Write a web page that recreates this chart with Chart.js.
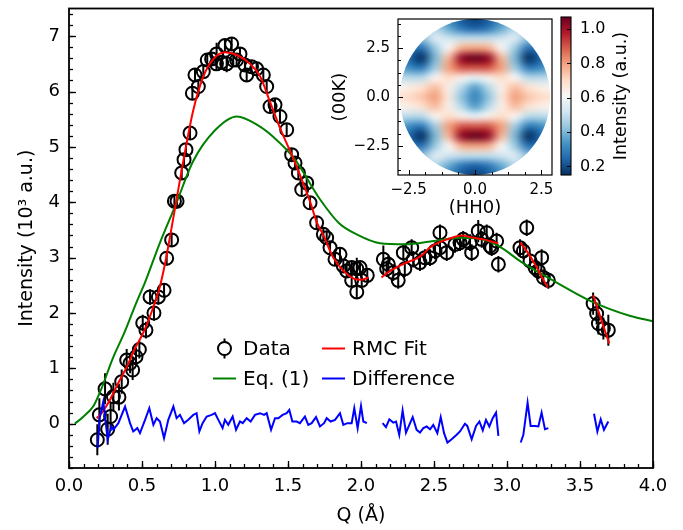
<!DOCTYPE html>
<html>
<head>
<meta charset="utf-8">
<script src="https://cdn.jsdelivr.net/npm/chart.js@4.4.1/dist/chart.umd.min.js"></script>
<style>
  html, body { margin: 0; padding: 0; background: #fff; }
  #wrap { position: relative; width: 683px; height: 530px; }
  canvas { position: absolute; }
  #mainChart { left: 0; top: 0; }
  #mapChart { left: 330px; top: 0; }
  #barChart { left: 555px; top: 0; }
</style>
</head>
<body>
<div id="wrap">
  <canvas id="mainChart" width="683" height="530"></canvas>
  <canvas id="mapChart" width="240" height="225"></canvas>
  <canvas id="barChart" width="128" height="200"></canvas>
</div>
<script>
// Measured powder pattern (10^3 a.u.) with uncertainties
const dataQ = [0.194,0.208,0.247,0.265,0.285,0.304,0.342,0.361,0.395,0.418,0.436,0.459,0.482,0.505,0.527,0.555,0.582,0.612,0.651,0.669,
  0.703,0.722,0.740,0.772,0.788,0.801,0.829,0.845,0.863,0.886,0.920,0.947,0.977,1.010,1.011,1.046,1.068,1.080,1.114,1.125,
  1.148,1.171,1.205,1.217,1.250,1.285,1.331,1.354,1.377,1.411,1.445,1.491,1.525,1.548,1.571,1.594,1.628,1.651,1.696,1.742,
  1.765,1.788,1.822,1.856,1.879,1.902,1.936,1.936,1.971,1.971,1.993,2.005,2.043,
  2.153,2.176,2.187,2.221,2.255,2.290,2.300,2.347,2.358,2.404,2.438,2.473,2.507,2.541,2.541,2.587,2.644,2.678,2.700,2.747,
  2.758,2.803,2.827,2.861,2.884,2.895,2.929,2.941,
  3.089,3.112,3.135,3.158,3.192,3.215,3.237,3.249,3.283,
  3.590,3.614,3.626,3.660,3.694];
const dataI = [-0.29,0.16,0.63,-0.10,0.13,0.49,0.48,0.76,1.15,1.09,0.97,1.21,1.34,1.82,1.69,2.29,2.00,2.29,2.41,2.99,
  3.32,4.02,4.02,4.53,4.77,4.95,5.25,5.97,6.30,6.09,6.36,6.57,6.59,6.50,6.68,6.53,6.83,6.50,6.86,6.57,
  6.57,6.68,6.48,6.30,6.45,6.41,6.30,6.09,5.73,5.76,5.55,5.31,4.86,4.71,4.53,4.23,4.35,3.99,3.63,3.42,
  3.36,3.18,2.97,3.06,2.85,2.76,2.82,2.59,2.80,2.38,2.82,2.59,2.68,
  2.97,2.80,2.88,2.73,2.59,3.09,2.80,3.18,2.97,2.91,3.00,3.00,3.12,3.45,3.18,3.09,3.24,3.27,3.33,3.27,
  3.09,3.48,3.33,3.45,3.21,3.18,3.30,2.88,
  3.18,3.12,3.54,2.94,2.82,2.76,3.00,2.64,2.59,
  2.17,1.99,1.81,1.72,1.69];
const dataErr = [0.28,0.30,0.28,0.28,0.26,0.25,0.24,0.22,0.20,0.18,0.18,0.16,0.16,0.15,0.15,0.14,0.14,0.14,0.13,0.13,
  0.13,0.13,0.13,0.12,0.12,0.12,0.12,0.12,0.12,0.12,0.12,0.12,0.12,0.12,0.20,0.12,0.12,0.15,0.12,0.12,
  0.12,0.12,0.12,0.12,0.12,0.12,0.12,0.12,0.12,0.12,0.12,0.12,0.12,0.12,0.12,0.12,0.12,0.12,0.12,0.12,
  0.12,0.12,0.12,0.12,0.12,0.12,0.12,0.12,0.20,0.12,0.12,0.12,0.12,
  0.25,0.15,0.15,0.15,0.15,0.15,0.15,0.15,0.15,0.15,0.15,0.15,0.15,0.15,0.15,0.15,0.15,0.15,0.15,0.15,
  0.15,0.20,0.15,0.15,0.15,0.15,0.15,0.15,
  0.15,0.15,0.15,0.15,0.15,0.15,0.15,0.15,0.15,
  0.20,0.20,0.20,0.20,0.28];

// RMC fit, one piece per measured Q window (null = gap)
const fitQ = [0.19,0.22,0.28,0.34,0.40,0.45,0.51,0.57,0.62,0.66,0.70,0.73,0.78,0.85,0.92,0.99,1.07,1.15,1.24,1.31,
  1.38,1.45,1.54,1.61,1.65,1.70,1.74,1.81,1.88,1.95,2.00,2.05, 2.10,
  2.14,2.20,2.27,2.33,2.37,2.42,2.47,2.53,2.59,2.65,2.70,2.75,2.79,2.84,2.88,2.94, 3.02,
  3.09,3.14,3.20,3.24,3.28, 3.45,
  3.59,3.64,3.70];
const fitI = [0.10,0.18,0.43,0.75,1.05,1.35,1.65,2.05,2.45,2.92,3.50,3.95,4.70,5.65,6.27,6.59,6.71,6.66,6.50,6.27,
  5.79,5.31,4.77,4.30,4.02,3.62,3.42,3.00,2.76,2.62,2.60,2.64, null,
  2.64,2.76,2.86,2.93,2.97,3.05,3.18,3.27,3.33,3.38,3.40,3.37,3.35,3.33,3.30,3.26, null,
  3.27,3.10,2.84,2.64,2.46, null,
  2.32,1.92,1.45];

// Eq. (1) model curve
const eqQ = [0.04,0.10,0.17,0.22,0.30,0.38,0.46,0.52,0.62,0.73,0.85,1.00,1.15,1.30,1.40,1.54,1.72,1.85,1.97,2.13,
  2.30,2.50,2.68,2.85,2.95,3.10,3.34,3.57,3.84,4.00];
const eqI = [0.00,0.13,0.33,0.62,1.18,1.65,2.18,2.55,3.25,3.95,4.74,5.30,5.55,5.38,5.18,4.80,4.05,3.62,3.42,3.26,
  3.24,3.30,3.36,3.32,3.20,2.92,2.55,2.22,1.95,1.85];

// Data minus fit (null = gap)
const diffQ = [0.196,0.210,0.235,0.265,0.290,0.304,0.338,0.384,0.418,0.440,0.468,0.486,0.521,0.550,0.578,0.600,0.623,0.651,0.680,0.715,
  0.737,0.760,0.788,0.817,0.852,0.874,0.893,0.915,0.943,0.977,1.000,1.023,1.052,1.068,1.091,1.121,1.144,1.171,1.190,1.217,
  1.244,1.274,1.308,1.336,1.354,1.384,1.411,1.434,1.463,1.491,1.509,1.530,1.559,1.582,1.616,1.639,1.662,1.692,1.719,1.747,
  1.765,1.792,1.822,1.856,1.879,1.906,1.936,1.954,1.977,2.000,2.016,2.040, 2.09,
  2.148,2.171,2.194,2.221,2.240,2.262,2.285,2.308,2.331,2.354,2.381,2.404,2.427,2.450,2.473,2.495,2.523,2.546,2.569,2.592,
  2.621,2.655,2.678,2.712,2.728,2.758,2.788,2.811,2.834,2.856,2.879,2.902,2.925,2.941, 3.02,
  3.094,3.112,3.141,3.162,3.192,3.215,3.237,3.260,3.283, 3.45,
  3.596,3.619,3.642,3.664,3.694];
const diffI = [-0.44,0.10,0.40,-0.29,-0.05,-0.11,0.01,0.31,0.01,-0.14,-0.08,-0.17,0.07,0.28,-0.02,0.10,0.04,-0.26,0.07,0.31,
  0.10,0.16,0.01,0.07,0.16,0.19,-0.14,0.01,0.13,0.16,0.19,0.07,-0.08,0.07,-0.02,0.13,-0.11,0.04,0.01,0.10,
  0.04,0.16,0.19,0.16,0.19,-0.11,0.10,0.10,0.16,0.19,0.25,0.04,0.04,0.01,0.13,-0.02,0.01,0.12,-0.05,0.01,
  0.10,0.04,0.07,0.19,-0.02,0.01,0.01,0.28,-0.08,0.32,0.04,0.01, null,
  0.01,-0.06,0.08,0.02,0.04,-0.20,0.24,-0.16,-0.02,0.12,-0.11,-0.16,-0.08,-0.05,-0.10,-0.02,-0.17,0.12,-0.17,-0.34,
  -0.28,-0.20,-0.14,0.00,-0.04,-0.28,-0.04,0.04,-0.12,0.07,-0.05,0.10,0.20,-0.22, null,
  -0.34,-0.20,0.38,-0.04,-0.04,-0.05,0.20,-0.10,-0.08, null,
  0.18,-0.14,0.08,-0.11,0.04];

const xTicks = [0, 0.5, 1, 1.5, 2, 2.5, 3, 3.5, 4];
const yTicks = [0, 1, 2, 3, 4, 5, 6, 7];

// Single-crystal map, one quadrant (K rows 0..4, H cols 0..3, step 0.5); mirrored in H and K
const mapH = [0, 0.5, 1, 1.5, 2, 2.5, 3];
const mapK = [0, 0.5, 1, 1.5, 2, 2.5, 3, 3.5, 4];
const mapQuad = [
  [0.30, 0.42, 0.66, 0.80, 0.74, 0.70, 0.68],
  [0.36, 0.48, 0.64, 0.75, 0.68, 0.64, 0.62],
  [0.58, 0.64, 0.70, 0.62, 0.48, 0.48, 0.50],
  [0.90, 0.90, 0.80, 0.45, 0.28, 0.32, 0.38],
  [1.07, 1.02, 0.76, 0.40, 0.15, 0.25, 0.32],
  [0.80, 0.78, 0.62, 0.44, 0.26, 0.30, 0.35],
  [0.50, 0.50, 0.52, 0.55, 0.42, 0.40, 0.40],
  [0.24, 0.28, 0.38, 0.48, 0.45, 0.45, 0.45],
  [0.18, 0.22, 0.32, 0.42, 0.45, 0.45, 0.45]
];
const mapTicks = [-2.5, 0, 2.5];
const barTicks = [0.2, 0.4, 0.6, 0.8, 1.0];
const cbMin = 0.15, cbMax = 1.07;
const qMax = 4;

Chart.defaults.font.family = "'DejaVu Sans', sans-serif";
Chart.defaults.color = '#000';

const pts = (xs, ys) => xs.map((x, i) => ({ x, y: ys[i] }));
const steps = (a, b, s) => { const out = []; for (let v = a; v <= b + 1e-9; v += s) out.push(+v.toFixed(4)); return out; };
const fixedTicks = list => scale => { scale.ticks = list.map(v => ({ value: v })); };
const signed = v => (v < 0 ? '\u2212' : '') + Math.abs(v).toFixed(1);
// fixed axis box, no extra room for half tick labels
const boxW = w => s => { s.width = w; s.paddingTop = 0; s.paddingBottom = 0; };
const boxH = h => s => { s.height = h; s.paddingLeft = 0; s.paddingRight = 0; };

// RdBu_r
const rdbu = ['#053061','#2166ac','#4393c3','#92c5de','#d1e5f0','#f7f7f7','#fddbc7','#f4a582','#d6604d','#b2182b','#67001f']
  .map(h => [1, 3, 5].map(i => parseInt(h.substr(i, 2), 16)));
function cmap(t) {
  t = Math.max(0, Math.min(1, t));
  const s = t * 10, i = Math.min(9, Math.floor(s)), f = s - i;
  return rdbu[i].map((c, k) => Math.round(c + (rdbu[i + 1][k] - c) * f));
}

// ticks pointing into the plot + axes frame
const inwardTicks = {
  id: 'inwardTicks',
  afterDraw(chart, args, opts) {
    const { ctx, chartArea: a } = chart;
    ctx.save();
    ctx.strokeStyle = '#000';
    ctx.lineWidth = opts.tickWidth;
    (opts.marks || []).forEach(m => {
      const scale = chart.scales[m.axis];
      const draw = (v, len) => {
        const p = Math.round(scale.getPixelForValue(v)) + 0.5;
        ctx.beginPath();
        if (m.side === 'bottom') { ctx.moveTo(p, a.bottom); ctx.lineTo(p, a.bottom - len); }
        else if (m.side === 'left') { ctx.moveTo(a.left, p); ctx.lineTo(a.left + len, p); }
        else { ctx.moveTo(a.right, p); ctx.lineTo(a.right - len, p); }
        ctx.stroke();
      };
      (m.minor || []).forEach(v => draw(v, opts.minorLen));
      m.major.forEach(v => draw(v, opts.majorLen));
    });
    ctx.lineWidth = opts.frameWidth;
    ctx.strokeRect(a.left, a.top, a.width, a.height);
    ctx.restore();
  }
};

// vertical error bars under the data markers
const errorBars = {
  id: 'errorBars',
  beforeDatasetsDraw(chart) {
    const { ctx, chartArea: a, scales: { x, y } } = chart;
    ctx.save();
    ctx.beginPath();
    ctx.rect(a.left, a.top, a.width, a.height);
    ctx.clip();
    ctx.strokeStyle = '#000';
    ctx.lineWidth = 2;
    dataQ.forEach((q, i) => {
      const px = x.getPixelForValue(q);
      ctx.beginPath();
      ctx.moveTo(px, y.getPixelForValue(dataI[i] - dataErr[i]));
      ctx.lineTo(px, y.getPixelForValue(dataI[i] + dataErr[i]));
      ctx.stroke();
    });
    ctx.restore();
  }
};

// two-column legend inside the axes
const innerLegend = {
  id: 'innerLegend',
  afterDatasetsDraw(chart) {
    const { ctx, chartArea: a } = chart;
    const rows = [a.top + 340, a.top + 370];
    const cols = [a.left + 144, a.left + 253];
    const hl = 23;
    ctx.save();
    ctx.font = "20px 'DejaVu Sans'";
    ctx.textBaseline = 'middle';
    ctx.fillStyle = '#000';
    const entries = [
      { col: 0, row: 0, text: 'Data', kind: 'marker' },
      { col: 1, row: 0, text: 'RMC Fit', color: '#ff0000' },
      { col: 0, row: 1, text: 'Eq. (1)', color: '#008000' },
      { col: 1, row: 1, text: 'Difference', color: '#0000ff' }
    ];
    entries.forEach(e => {
      const x0 = cols[e.col], yc = rows[e.row];
      ctx.lineWidth = 2;
      if (e.kind === 'marker') {
        const cx = x0 + hl / 2;
        ctx.strokeStyle = '#000';
        ctx.beginPath(); ctx.moveTo(cx, yc - 10); ctx.lineTo(cx, yc + 10); ctx.stroke();
        ctx.fillStyle = '#fff';
        ctx.beginPath(); ctx.arc(cx, yc, 6.5, 0, 2 * Math.PI); ctx.fill(); ctx.stroke();
        ctx.fillStyle = '#000';
      } else {
        ctx.strokeStyle = e.color;
        ctx.beginPath(); ctx.moveTo(x0, yc); ctx.lineTo(x0 + hl, yc); ctx.stroke();
      }
      ctx.fillText(e.text, x0 + hl + 7, yc + 1);
    });
    ctx.restore();
  }
};

new Chart(document.getElementById('mainChart'), {
  type: 'scatter',
  data: {
    datasets: [
      { label: 'Difference', data: pts(diffQ, diffI), showLine: true, spanGaps: false,
        borderColor: '#0000ff', borderWidth: 2, pointRadius: 0, order: 0 },
      { label: 'RMC Fit', data: pts(fitQ, fitI), showLine: true, spanGaps: false,
        borderColor: '#ff0000', borderWidth: 2, pointRadius: 0, cubicInterpolationMode: 'monotone', order: 1 },
      { label: 'Eq. (1)', data: pts(eqQ, eqI), showLine: true,
        borderColor: '#008000', borderWidth: 2, pointRadius: 0, cubicInterpolationMode: 'monotone', order: 2 },
      { label: 'Data', data: pts(dataQ, dataI), showLine: false,
        pointRadius: 6.5, pointBorderWidth: 2, borderColor: '#000', backgroundColor: 'rgba(0,0,0,0)', order: 3 }
    ]
  },
  options: {
    responsive: false,
    animation: false,
    events: [],
    layout: { padding: { left: 0, top: 7, right: 30, bottom: 0 } },
    plugins: {
      legend: { display: false },
      tooltip: { enabled: false },
      inwardTicks: {
        tickWidth: 1.3, majorLen: 7, minorLen: 4, frameWidth: 1.8,
        marks: [
          { axis: 'x', side: 'bottom', major: xTicks, minor: steps(0, 4, 0.1) },
          { axis: 'y', side: 'left', major: yTicks, minor: steps(-0.8, 7.4, 0.2) }
        ]
      }
    },
    scales: {
      x: {
        type: 'linear', min: 0, max: 4,
        afterBuildTicks: fixedTicks(xTicks),
        afterFit: boxH(62),
        grid: { display: false, drawTicks: false },
        border: { display: false },
        ticks: { font: { size: 18 }, padding: 8, maxRotation: 0, autoSkip: false, callback: v => v.toFixed(1) },
        title: { display: true, text: 'Q (\u00c5)', font: { size: 19 }, padding: { top: 0, bottom: 3 } }
      },
      y: {
        type: 'linear', min: -0.8, max: 7.5,
        afterBuildTicks: fixedTicks(yTicks),
        afterFit: boxW(69),
        grid: { display: false, drawTicks: false },
        border: { display: false },
        ticks: { font: { size: 18 }, padding: 9, autoSkip: false, callback: v => String(v) },
        title: { display: true, text: 'Intensity (10\u00b3 a.u.)', font: { size: 19 }, padding: { top: 16, bottom: 0 } }
      }
    }
  },
  plugins: [errorBars, innerLegend, inwardTicks]
});

// inset: (HH0)-(00K) intensity map, drawn as a smoothed image inside the detector circle
const heatmap = {
  id: 'heatmap',
  beforeDatasetsDraw(chart) {
    const { ctx, chartArea: a, scales: { x, y } } = chart;
    const hs = mapH.slice(1).reverse().map(v => -v).concat(mapH);
    const ks = mapK.slice(1).reverse().map(v => -v).concat(mapK);
    const nx = hs.length, ny = ks.length;
    const off = document.createElement('canvas');
    off.width = nx; off.height = ny;
    const octx = off.getContext('2d');
    const img = octx.createImageData(nx, ny);
    for (let j = 0; j < ny; j++) {
      const k = ks[ny - 1 - j];
      for (let i = 0; i < nx; i++) {
        const v = mapQuad[mapK.indexOf(Math.abs(k))][mapH.indexOf(Math.abs(hs[i]))];
        const c = cmap((v - cbMin) / (cbMax - cbMin));
        const p = (j * nx + i) * 4;
        img.data[p] = c[0]; img.data[p + 1] = c[1]; img.data[p + 2] = c[2]; img.data[p + 3] = 255;
      }
    }
    octx.putImageData(img, 0, 0);
    const dh = 0.5, dk = 0.5;
    const x0 = x.getPixelForValue(hs[0] - dh / 2), x1 = x.getPixelForValue(hs[nx - 1] + dh / 2);
    const y0 = y.getPixelForValue(ks[ny - 1] + dk / 2), y1 = y.getPixelForValue(ks[0] - dk / 2);
    const cx = x.getPixelForValue(0), cy = y.getPixelForValue(0);
    const rx = Math.abs(x.getPixelForValue(qMax / Math.SQRT2) - cx);
    const ry = Math.abs(y.getPixelForValue(qMax) - cy);
    ctx.save();
    ctx.beginPath();
    ctx.rect(a.left, a.top, a.width, a.height);
    ctx.clip();
    ctx.beginPath();
    ctx.ellipse(cx, cy, rx, ry, 0, 0, 2 * Math.PI);
    ctx.clip();
    ctx.imageSmoothingEnabled = true;
    ctx.imageSmoothingQuality = 'high';
    ctx.drawImage(off, x0, y0, x1 - x0, y1 - y0);
    ctx.restore();
  }
};

new Chart(document.getElementById('mapChart'), {
  type: 'scatter',
  data: { datasets: [] },
  options: {
    responsive: false,
    animation: false,
    events: [],
    layout: { padding: { left: 0, top: 19, right: 18, bottom: 0 } },
    plugins: {
      legend: { display: false },
      tooltip: { enabled: false },
      inwardTicks: {
        tickWidth: 1, majorLen: 5, minorLen: 3, frameWidth: 1.2,
        marks: [
          { axis: 'x', side: 'bottom', major: mapTicks, minor: steps(-2.5, 2.5, 0.625) },
          { axis: 'y', side: 'left', major: mapTicks, minor: steps(-3.75, 3.75, 0.625) }
        ]
      }
    },
    scales: {
      x: {
        type: 'linear', min: -2.9, max: 2.9,
        afterBuildTicks: fixedTicks(mapTicks),
        afterFit: boxH(50),
        grid: { display: false, drawTicks: false },
        border: { display: false },
        ticks: { font: { size: 15 }, padding: 6, maxRotation: 0, autoSkip: false, callback: signed },
        title: { display: true, text: '(HH0)', font: { size: 18 }, padding: { top: 0, bottom: 6 } }
      },
      y: {
        type: 'linear', min: -4, max: 4,
        afterBuildTicks: fixedTicks(mapTicks),
        afterFit: boxW(68),
        grid: { display: false, drawTicks: false },
        border: { display: false },
        ticks: { font: { size: 15 }, padding: 8, autoSkip: false, callback: signed },
        title: { display: true, text: '(00K)', font: { size: 18 }, padding: { top: 0, bottom: 0 } }
      }
    }
  },
  plugins: [heatmap, inwardTicks]
});

// colour bar for the map
const colorBar = {
  id: 'colorBar',
  beforeDatasetsDraw(chart) {
    const { ctx, chartArea: a, scales: { y } } = chart;
    const g = ctx.createLinearGradient(0, y.getPixelForValue(cbMin), 0, y.getPixelForValue(cbMax));
    for (let i = 0; i <= 20; i++) {
      const c = cmap(i / 20);
      g.addColorStop(i / 20, `rgb(${c[0]},${c[1]},${c[2]})`);
    }
    ctx.save();
    ctx.fillStyle = g;
    ctx.fillRect(a.left, a.top, a.width, a.height);
    ctx.restore();
  },
  afterDraw(chart) {
    const { ctx, chartArea: a } = chart;
    ctx.save();
    ctx.translate(a.right + 50, (a.top + a.bottom) / 2);
    ctx.rotate(-Math.PI / 2);
    ctx.font = "17.5px 'DejaVu Sans'";
    ctx.fillStyle = '#000';
    ctx.textAlign = 'center';
    ctx.textBaseline = 'middle';
    ctx.fillText('Intensity (a.u.)', 0, 0);
    ctx.restore();
  }
};

new Chart(document.getElementById('barChart'), {
  type: 'scatter',
  data: { datasets: [] },
  options: {
    responsive: false,
    animation: false,
    events: [],
    layout: { padding: { left: 6, top: 17, right: 0, bottom: 25 } },
    plugins: {
      legend: { display: false },
      tooltip: { enabled: false },
      inwardTicks: {
        tickWidth: 1, majorLen: 4, minorLen: 0, frameWidth: 1.1,
        marks: [{ axis: 'y', side: 'right', major: barTicks }]
      }
    },
    scales: {
      x: { display: false, min: 0, max: 1 },
      y: {
        type: 'linear', position: 'right', min: cbMin, max: cbMax,
        afterBuildTicks: fixedTicks(barTicks),
        afterFit: boxW(112),
        grid: { display: false, drawTicks: false },
        border: { display: false },
        ticks: { font: { size: 16 }, padding: 9, autoSkip: false, callback: v => v.toFixed(1) }
      }
    }
  },
  plugins: [colorBar, inwardTicks]
});
</script>
</body>
</html>
